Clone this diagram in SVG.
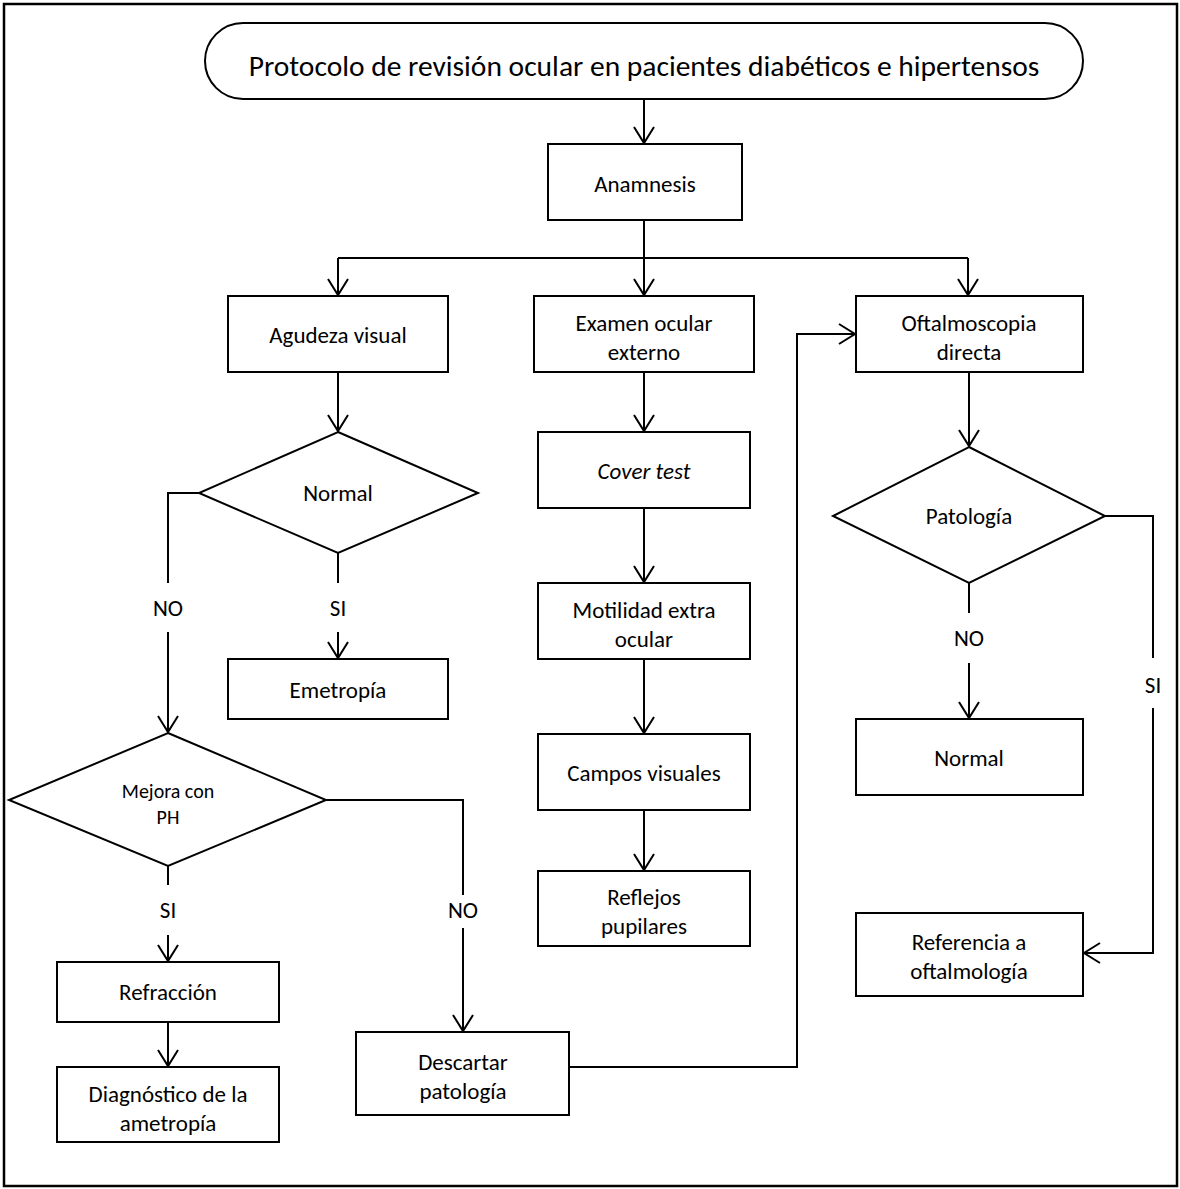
<svg xmlns="http://www.w3.org/2000/svg" width="1180" height="1189" viewBox="0 0 1180 1189">
<style>
.box{fill:#fff;stroke:#000;stroke-width:2}
.t{font-family:Carlito,Lato,"Liberation Sans",sans-serif;font-size:23px;fill:#000;text-anchor:middle}
.ts{font-family:Carlito,Lato,"Liberation Sans",sans-serif;font-size:20px;fill:#000;text-anchor:middle}
.c{fill:none;stroke:#000;stroke-width:2}
</style>
<defs>
<marker id="arr" markerUnits="userSpaceOnUse" markerWidth="30" markerHeight="30" viewBox="-20 -15 30 30" refX="0" refY="0" orient="auto" overflow="visible">
<path d="M-16,-10 L0,0 L-16,10" fill="none" stroke="#000" stroke-width="2"/>
</marker>
</defs>
<rect x="0" y="0" width="1180" height="1189" fill="#fff"/>
<rect x="4" y="4" width="1173" height="1182" fill="none" stroke="#000" stroke-width="2.5"/>

<g id="connectors">
<path class="c" d="M644,99 V143" marker-end="url(#arr)"/>
<path class="c" d="M644,220 V295" marker-end="url(#arr)"/>
<path class="c" d="M338,258 H968"/>
<path class="c" d="M338,258 V295" marker-end="url(#arr)"/>
<path class="c" d="M968,258 V295" marker-end="url(#arr)"/>
<path class="c" d="M338,372 V431" marker-end="url(#arr)"/>
<path class="c" d="M199,493 H168 V583"/>
<path class="c" d="M168,632 V732" marker-end="url(#arr)"/>
<path class="c" d="M338,553 V583"/>
<path class="c" d="M338,632 V658" marker-end="url(#arr)"/>
<path class="c" d="M168,866 V885"/>
<path class="c" d="M168,935 V961" marker-end="url(#arr)"/>
<path class="c" d="M168,1022 V1066" marker-end="url(#arr)"/>
<path class="c" d="M326,800 H463 V895"/>
<path class="c" d="M463,928 V1031" marker-end="url(#arr)"/>
<path class="c" d="M569,1067 H797 V334 H855" marker-end="url(#arr)"/>
<path class="c" d="M644,372 V431" marker-end="url(#arr)"/>
<path class="c" d="M644,508 V582" marker-end="url(#arr)"/>
<path class="c" d="M644,659 V733" marker-end="url(#arr)"/>
<path class="c" d="M644,810 V870" marker-end="url(#arr)"/>
<path class="c" d="M969,372 V446" marker-end="url(#arr)"/>
<path class="c" d="M969,583 V613"/>
<path class="c" d="M969,663 V718" marker-end="url(#arr)"/>
<path class="c" d="M1105,516 H1153 V658"/>
<path class="c" d="M1153,708 V953 H1084" marker-end="url(#arr)"/>
<text class="t" x="168" y="616">NO</text>
<text class="t" x="338" y="616">SI</text>
<text class="t" x="168" y="918">SI</text>
<text class="t" x="463" y="918">NO</text>
<text class="t" x="969" y="646">NO</text>
<text class="t" x="1153" y="693">SI</text>
</g>

<g id="title">
<rect class="box" x="205" y="23" width="878" height="76" rx="38" ry="38"/>
<text class="t" x="644" y="76" style="font-size:29.5px">Protocolo de revisión ocular en pacientes diabéticos e hipertensos</text>
</g>
<g id="anamnesis">
<rect class="box" x="548" y="144" width="194" height="76"/>
<text class="t" x="645" y="192">Anamnesis</text>
</g>
<g id="agudeza">
<rect class="box" x="228" y="296" width="220" height="76"/>
<text class="t" x="338" y="343">Agudeza visual</text>
</g>
<g id="examen">
<rect class="box" x="534" y="296" width="220" height="76"/>
<text class="t" x="644" y="331">Examen ocular</text>
<text class="t" x="644" y="360">externo</text>
</g>
<g id="oftalmoscopia">
<rect class="box" x="856" y="296" width="227" height="76"/>
<text class="t" x="969" y="331">Oftalmoscopia</text>
<text class="t" x="969" y="360">directa</text>
</g>
<g id="normal-decision">
<polygon class="box" points="338,432 478,493 338,553 199,493"/>
<text class="t" x="338" y="501">Normal</text>
</g>
<g id="emetropia">
<rect class="box" x="228" y="659" width="220" height="60"/>
<text class="t" x="338" y="698">Emetropía</text>
</g>
<g id="mejora">
<polygon class="box" points="168,733 326,800 168,866 9,800"/>
<text class="ts" x="168" y="798">Mejora con</text>
<text class="ts" x="168" y="824">PH</text>
</g>
<g id="refraccion">
<rect class="box" x="57" y="962" width="222" height="60"/>
<text class="t" x="168" y="1000">Refracción</text>
</g>
<g id="diagnostico">
<rect class="box" x="57" y="1067" width="222" height="75"/>
<text class="t" x="168" y="1102">Diagnóstico de la</text>
<text class="t" x="168" y="1131">ametropía</text>
</g>
<g id="descartar">
<rect class="box" x="356" y="1032" width="213" height="83"/>
<text class="t" x="463" y="1070">Descartar</text>
<text class="t" x="463" y="1099">patología</text>
</g>
<g id="cover">
<rect class="box" x="538" y="432" width="212" height="76"/>
<text class="t" x="644" y="479" font-style="italic">Cover test</text>
</g>
<g id="motilidad">
<rect class="box" x="538" y="583" width="212" height="76"/>
<text class="t" x="644" y="618">Motilidad extra</text>
<text class="t" x="644" y="647">ocular</text>
</g>
<g id="campos">
<rect class="box" x="538" y="734" width="212" height="76"/>
<text class="t" x="644" y="781">Campos visuales</text>
</g>
<g id="reflejos">
<rect class="box" x="538" y="871" width="212" height="75"/>
<text class="t" x="644" y="905">Reflejos</text>
<text class="t" x="644" y="934">pupilares</text>
</g>
<g id="patologia">
<polygon class="box" points="969,447 1105,516 969,583 833,516"/>
<text class="t" x="969" y="524">Patología</text>
</g>
<g id="normal-box">
<rect class="box" x="856" y="719" width="227" height="76"/>
<text class="t" x="969" y="766">Normal</text>
</g>
<g id="referencia">
<rect class="box" x="856" y="913" width="227" height="83"/>
<text class="t" x="969" y="950">Referencia a</text>
<text class="t" x="969" y="979">oftalmología</text>
</g>
</svg>
